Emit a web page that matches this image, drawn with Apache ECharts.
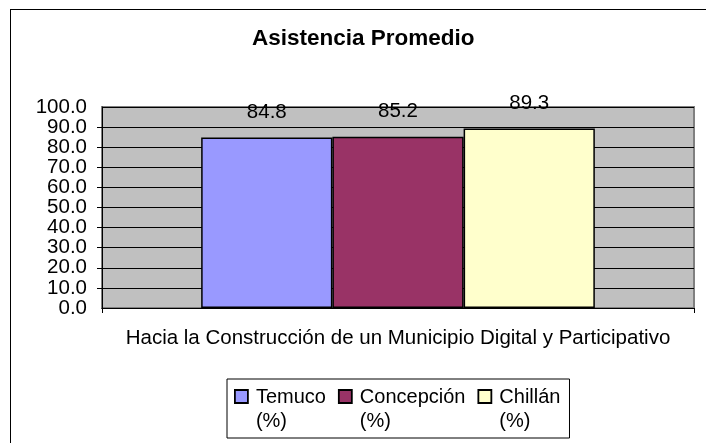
<!DOCTYPE html>
<html>
<head>
<meta charset="utf-8">
<script src="https://cdn.jsdelivr.net/npm/echarts@6/dist/echarts.min.js"></script>
<style>
html,body{margin:0;padding:0;background:#fff;}
#frame{position:absolute;left:10px;top:9px;width:720px;height:460px;border:1px solid #000;box-sizing:border-box;}
#chart{position:absolute;left:0;top:0;width:706px;height:443px;}
</style>
</head>
<body>
<div id="frame"></div>
<div id="chart"></div>
<script>
const titleText = 'Asistencia Promedio';
const categories = ['Hacia la Construcción de un Municipio Digital y Participativo'];
const seriesNames = ['Temuco (%)', 'Concepción (%)', 'Chillán (%)'];
const seriesValues = [[84.8], [85.2], [89.3]];
const seriesColors = ['#9999FF', '#993366', '#FFFFCC'];
const yMin = 0, yMax = 100, yStep = 10;

const font = 'Liberation Sans, Arial, sans-serif';
const chart = echarts.init(document.getElementById('chart'), null, {renderer: 'canvas'});

const yLabelStyle = {fontFamily: font, fontSize: 20.5, color: '#000', margin: 15};

chart.setOption({
  backgroundColor: 'transparent',
  animation: false,
  textStyle: {fontFamily: font},
  title: {
    text: titleText,
    left: 252,
    top: 27,
    padding: 0,
    textStyle: {fontFamily: font, fontSize: 22.5, fontWeight: 'bold', color: '#000'}
  },
  grid: {
    left: 102, right: 12, top: 107, bottom: 135,
    show: true,
    backgroundColor: '#C0C0C0',
    borderColor: '#808080',
    borderWidth: 2,
    containLabel: false
  },
  legend: {
    left: 227,
    top: 379,
    padding: [6, 9, 5, 7],
    itemGap: 12,
    itemWidth: 13,
    itemHeight: 38,
    borderColor: '#000',
    borderWidth: 1,
    icon: 'path://M0,0h13v13h-13z M13,38',
    data: seriesNames,
    formatter: function (n) { return n.replace(' ', '\n'); },
    textStyle: {fontFamily: font, fontSize: 20, color: '#000', lineHeight: 24, padding: [0, 0, 0, 3]},
    itemStyle: {borderColor: '#000', borderWidth: 1.8}
  },
  xAxis: {
    type: 'category',
    data: categories,
    axisLine: {show: true, lineStyle: {color: '#000', width: 1}},
    axisTick: {show: true, alignWithLabel: false, length: 5, lineStyle: {color: '#000'}},
    axisLabel: {fontFamily: font, fontSize: 20.5, color: '#000', margin: 20}
  },
  yAxis: [{
    type: 'value',
    min: yMin, max: yMax, interval: yStep,
    axisLine: {show: true, lineStyle: {color: '#000', width: 1}},
    axisTick: {show: true, length: 5, lineStyle: {color: '#000'}},
    axisLabel: Object.assign({}, yLabelStyle, {
      showMinLabel: false, showMaxLabel: false,
      formatter: function (v) { return v.toFixed(1); }}),
    splitLine: {show: true, lineStyle: {color: '#000', width: 1}}
  }, {
    type: 'value',
    position: 'left',
    min: yMin, max: yMax, interval: yStep,
    axisLine: {show: false},
    axisTick: {show: false},
    splitLine: {show: false},
    axisLabel: Object.assign({}, yLabelStyle, {
      showMinLabel: true, showMaxLabel: true,
      formatter: function (v) { return (v === yMin || v === yMax) ? v.toFixed(1) : ''; }})
  }],
  series: seriesNames.map(function (name, i) {
    return {
      name: name,
      type: 'bar',
      yAxisIndex: 0,
      data: seriesValues[i],
      barGap: '0%',
      barCategoryGap: '33.5%',
      itemStyle: {color: seriesColors[i], borderColor: '#000', borderWidth: 1.5},
      label: {
        show: true, position: 'top', distance: 15,
        fontFamily: font, fontSize: 20.5, color: '#000',
        formatter: function (p) { return p.value.toFixed(1); }
      }
    };
  })
});
</script>
</body>
</html>
